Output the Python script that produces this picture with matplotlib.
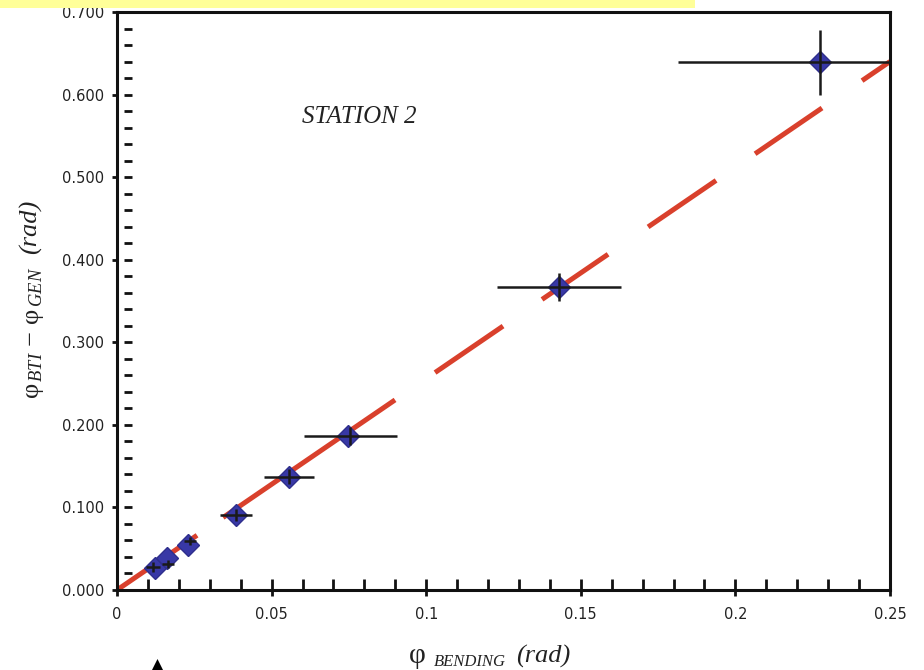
import matplotlib
matplotlib.use("Agg")
import matplotlib.pyplot as plt
import numpy as np
from matplotlib.patches import Polygon, Rectangle

# diamonds: phi_bending vs phi_BTI - phi_GEN
phi_bend = [0.0123, 0.0162, 0.0230, 0.0385, 0.0556, 0.0747, 0.1430, 0.2274]
phi_diff = [0.0266, 0.0387, 0.0545, 0.0908, 0.1370, 0.1865, 0.3670, 0.6390]

# error-bar crosses (first three sit a little off the diamonds)
bar_x = [0.0116, 0.0165, 0.0236, 0.0385, 0.0556, 0.0755, 0.1430, 0.2274]
bar_y = [0.0279, 0.0315, 0.0593, 0.0908, 0.1370, 0.1865, 0.3670, 0.6390]
xerr = [0.0022, 0.0020, 0.0020, 0.0051, 0.0080, 0.0150, 0.0200, 0.0460]
yerr = [0.0055, 0.0045, 0.0045, 0.0070, 0.0090, 0.0110, 0.0170, 0.0390]

# linear fit
fit_slope = 2.56
fit_x = np.array([0.0, 0.25])

x_ticks = [0, 0.05, 0.1, 0.15, 0.2, 0.25]
x_ticklabels = ["0", "0.05", "0.1", "0.15", "0.2", "0.25"]
y_ticks = [0.0, 0.1, 0.2, 0.3, 0.4, 0.5, 0.6, 0.7]

plt.rcParams["mathtext.fontset"] = "custom"
plt.rcParams["mathtext.rm"] = "Liberation Serif"
plt.rcParams["mathtext.it"] = "Liberation Serif:italic"
plt.rcParams["lines.scale_dashes"] = False

W, H = 924, 670
fig = plt.figure(figsize=(W / 100, H / 100), dpi=100)
ax = fig.add_axes([117 / W, (H - 590) / H, 773 / W, 578 / H])

# fit line (solid near the data, dashed beyond)
dash_pat = [69.8, 22.7, 150.0, 34.9, 59.3, 34.0, 57.6, 34.9, 59.3, 34.0, 58.4, 34.9, 60, 10]
ax.plot(fit_x, fit_slope * fit_x, color="#d9402c", lw=3.6,
        dashes=dash_pat, zorder=2)

ax.plot(phi_bend, phi_diff, "D", ms=11, mfc="#3838a6", mec="#2e2e8c", mew=1, zorder=3)
ax.errorbar(bar_x, bar_y, xerr=xerr, yerr=yerr, fmt="none", ecolor="#1a1a1a",
            elinewidth=1.8, capsize=0, zorder=4)

ax.set_xlim(0, 0.25)
ax.set_ylim(0, 0.7)

for s in ax.spines.values():
    s.set_linewidth(2.2)
    s.set_color("#111111")

ax.set_xticks(x_ticks)
ax.set_xticklabels(x_ticklabels)
ax.set_xticks(np.arange(0, 0.2501, 0.01), minor=True)
ax.xaxis.remove_overlapping_locs = False
ax.tick_params(axis="x", which="major", direction="out", length=4, width=2, pad=8,
               labelsize=10.5, colors="#111111", labelcolor="#222222")
ax.tick_params(axis="x", which="minor", direction="in", length=8, width=2, colors="#111111")

ax.set_yticks(y_ticks)
ax.yaxis.set_major_formatter(matplotlib.ticker.FormatStrFormatter("%.3f"))
ax.tick_params(axis="y", which="major", direction="out", length=3.6, width=2, pad=5.4,
               labelsize=10.5, colors="#111111", labelcolor="#222222")

# detached inner dashes on the y axis
sec = ax.secondary_yaxis(15 / 773)
sec.spines["right"].set_visible(False)
sec.spines["left"].set_visible(False)
sec.set_yticks(np.arange(0.02, 0.69, 0.02))
sec.tick_params(axis="y", direction="out", length=5.8, width=2, labelleft=False,
                colors="#111111")

ax.text(0.0785, 0.573, "STATION 2", fontsize=18, family="Liberation Serif",
        style="italic", ha="center", va="center", color="#222222")

serif = "Liberation Serif"
tc = "#222222"


def px(x, y):
    return x / W, 1 - y / H


# x label, built piece by piece
fig.text(*px(409, 663), "φ", fontsize=21, family=serif, color=tc, va="baseline")
fig.text(*px(434, 666), "BENDING", fontsize=12, family=serif, style="italic",
         color=tc, va="baseline")
fig.text(*px(516, 663), "(rad)", fontsize=19, family=serif, style="italic",
         color=tc, va="baseline")

# y label
fig.text(*px(33, 333), r"$\mathrm{\varphi}_{\,\mathit{BTI}}\,-\,\mathrm{\varphi}_{\,\mathit{GEN}}$",
         fontsize=19, rotation=90, ha="center", va="center", color=tc)
fig.text(*px(31, 227), "(rad)", fontsize=19, family=serif, style="italic",
         rotation=90, ha="center", va="center", color=tc)

# yellow highlight strip and arrow fragment
fig.patches.append(Rectangle((0, 1 - 8 / H), 695 / W, 8 / H, transform=fig.transFigure,
                             facecolor="#ffff99", edgecolor="none"))
fig.patches.append(Polygon([(157.5 / W, 1 - 659 / H), (152 / W, 0), (163 / W, 0)],
                           closed=True, transform=fig.transFigure, facecolor="black",
                           edgecolor="none"))

fig.savefig("out.png", dpi=100)
